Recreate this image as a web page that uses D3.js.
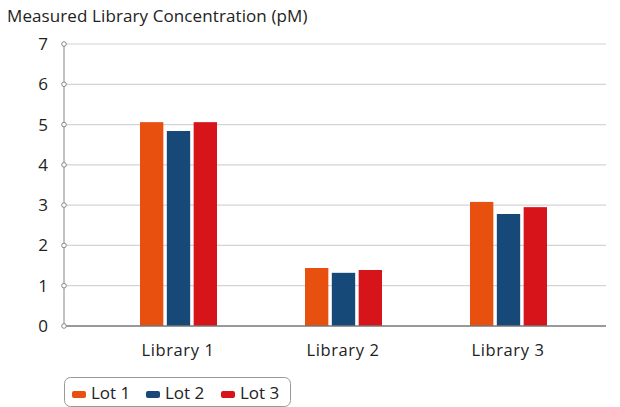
<!DOCTYPE html>
<html>
<head>
<meta charset="utf-8">
<script src="https://cdn.jsdelivr.net/npm/d3@7"></script>
<style>
  body { margin: 0; background: #fff; }
  svg text { font-family: "Open Sans", "Noto Sans", sans-serif; fill: #222; }
</style>
</head>
<body>
<div id="chart"></div>
<script>
var libraries = ['Library 1', 'Library 2', 'Library 3'];
var lots = ['Lot 1', 'Lot 2', 'Lot 3'];
var lot1 = [5.06, 1.44, 3.08];
var lot2 = [4.84, 1.32, 2.78];
var lot3 = [5.06, 1.39, 2.95];
var lotColors = ['#e8500f', '#164878', '#d7141a'];
var yTicks = [0, 1, 2, 3, 4, 5, 6, 7];

var series = [lot1, lot2, lot3];

var svg = d3.select('#chart')
    .append('svg')
    .attr('width', 620)
    .attr('height', 407);

var yScale = d3.scaleLinear()
    .domain([0, 7])
    .range([326, 44]);

var xScale = d3.scaleBand()
    .domain(libraries)
    .range([95.5, 590.5]);

var xInner = d3.scaleBand()
    .domain(lots)
    .range([44.5, 121.5])
    .paddingInner(0.13);

// title
svg.append('text')
    .attr('x', 7)
    .attr('y', 22)
    .style('font-size', '17px')
    .style('letter-spacing', '0.1px')
    .text('Measured Library Concentration (pM)');

// gridlines
svg.selectAll('line.grid')
    .data(yTicks.slice(1))
    .enter()
    .append('line')
    .attr('class', 'grid')
    .attr('x1', 64)
    .attr('x2', 606)
    .attr('y1', function (d) { return yScale(d); })
    .attr('y2', function (d) { return yScale(d); })
    .attr('stroke', '#d4d4d4')
    .attr('stroke-width', 1.2);

// bars
var groups = svg.selectAll('g.lib')
    .data(libraries)
    .enter()
    .append('g')
    .attr('class', 'lib')
    .attr('transform', function (d) { return 'translate(' + xScale(d) + ',0)'; });

groups.selectAll('rect')
    .data(function (d, i) {
        return series.map(function (s, j) { return { lot: lots[j], value: s[i], color: lotColors[j] }; });
    })
    .enter()
    .append('rect')
    .attr('x', function (d) { return xInner(d.lot); })
    .attr('width', xInner.bandwidth())
    .attr('y', function (d) { return yScale(d.value); })
    .attr('height', function (d) { return yScale(0) - yScale(d.value); })
    .attr('fill', function (d) { return d.color; });

// y axis line
svg.append('line')
    .attr('x1', 64).attr('x2', 64)
    .attr('y1', yScale(7)).attr('y2', yScale(0))
    .attr('stroke', '#999')
    .attr('stroke-width', 1.2);

// x axis line
svg.append('line')
    .attr('x1', 64).attr('x2', 606)
    .attr('y1', yScale(0)).attr('y2', yScale(0))
    .attr('stroke', '#777')
    .attr('stroke-width', 1.5);

// tick circles
svg.selectAll('circle.tick')
    .data(yTicks)
    .enter()
    .append('circle')
    .attr('class', 'tick')
    .attr('cx', 64)
    .attr('cy', function (d) { return yScale(d); })
    .attr('r', 2.3)
    .attr('fill', '#fff')
    .attr('stroke', '#888')
    .attr('stroke-width', 1);

// y tick labels
svg.selectAll('text.ylab')
    .data(yTicks)
    .enter()
    .append('text')
    .attr('class', 'ylab')
    .attr('x', 48)
    .attr('y', function (d) { return yScale(d) + 6; })
    .attr('text-anchor', 'end')
    .style('font-size', '17px')
    .text(function (d) { return d; });

// x labels
svg.selectAll('text.xlab')
    .data(libraries)
    .enter()
    .append('text')
    .attr('class', 'xlab')
    .attr('x', function (d) { return xScale(d) + xScale.bandwidth() / 2; })
    .attr('y', 356)
    .attr('text-anchor', 'middle')
    .style('font-size', '16.5px')
    .style('letter-spacing', '0.6px')
    .text(function (d) { return d; });

// legend
var legend = svg.append('g').attr('transform', 'translate(64,377)');
legend.append('rect')
    .attr('x', 0.5).attr('y', 0.5)
    .attr('width', 226).attr('height', 29)
    .attr('rx', 6)
    .attr('fill', '#fff')
    .attr('stroke', '#999');

var legX = [8, 82, 157];
var items = legend.selectAll('g.item')
    .data(lots)
    .enter()
    .append('g')
    .attr('class', 'item')
    .attr('transform', function (d, i) { return 'translate(' + legX[i] + ',0)'; });

items.append('rect')
    .attr('x', 0).attr('y', 14)
    .attr('width', 14).attr('height', 7)
    .attr('rx', 2)
    .attr('fill', function (d, i) { return lotColors[i]; });

items.append('text')
    .attr('x', 19)
    .attr('y', 22)
    .style('font-size', '17px')
    .text(function (d) { return d; });
</script>
</body>
</html>
